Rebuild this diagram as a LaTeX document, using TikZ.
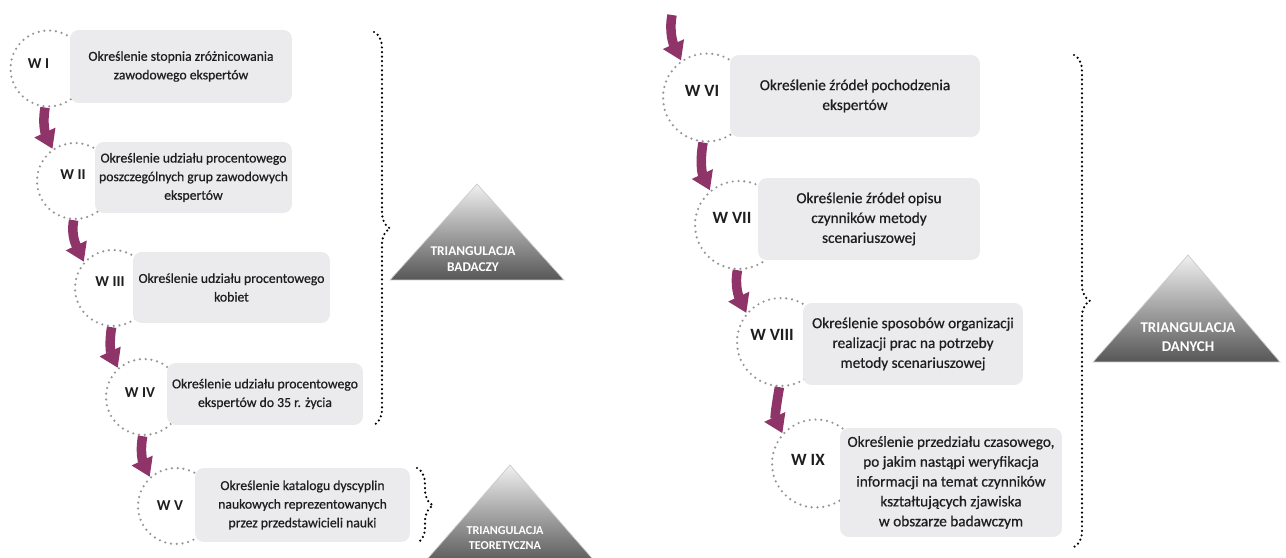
\documentclass[tikz,border=0pt]{standalone}
\usepackage{fontspec}
\setmainfont{Carlito}
\newfontfamily\boxfont{Carlito}[FakeBold=0.6]
\usetikzlibrary{arrows.meta, positioning, calc, decorations.pathreplacing}
\definecolor{boxgray}{RGB}{235,235,238}
\definecolor{arrowc}{RGB}{142,52,104}
\definecolor{dotgray}{RGB}{150,150,150}
\definecolor{textc}{RGB}{30,30,30}

\begin{document}
\begin{tikzpicture}[
    x=0.02cm, y=0.02cm,
    every node/.style={text=textc},
    circ/.style={circle, draw=dotgray, line width=1.4pt, dash pattern=on 0pt off 3.3pt,
                 line cap=round, minimum size=1.52cm, inner sep=0pt},
    circr/.style={circ, minimum size=1.76cm},
    box/.style={rectangle, fill=boxgray, rounded corners=5pt, align=center,
                font=\boxfont\fontsize{7.8}{10.6}\selectfont, inner sep=2pt},
    boxr/.style={box, font=\boxfont\fontsize{8.7}{11.3}\selectfont},
    wlab/.style={font=\bfseries\fontsize{8.6}{10}\selectfont},
    wlabr/.style={font=\bfseries\fontsize{9.8}{11}\selectfont},
    flow/.style={-{Triangle[length=0.36cm, width=0.44cm]}, line width=0.19cm, draw=arrowc},
    dbrace/.style={decorate, decoration={brace, amplitude=0.32cm}, line width=1.4pt,
                   dash pattern=on 0pt off 2.6pt, line cap=round},
    tri/.style={top color=black!6, bottom color=black!66, draw=black!20, line width=0.4pt},
    trilab/.style={text=white, align=center, font=\bfseries\fontsize{7.6}{9}\selectfont}
]
\useasboundingbox (0,0) rectangle (1286,558);
\clip (0,0) rectangle (1286,558);
% Kolumna lewa - okregi
\node[circ] (c1) at (48.5,489.5) {};
\node[circ] (c2) at (75,377) {};
\node[circ] (c3) at (113,270) {};
\node[circ] (c4) at (144,161) {};
\node[circ] (c5) at (176,52) {};
% Kolumna prawa - okregi
\node[circr] (c6) at (707,460.5) {};
\node[circr] (c7) at (739,333) {};
\node[circr] (c8) at (781,216) {};
\node[circr] (c9) at (816,94.5) {};
% Prostokaty z opisem
\node[box, minimum width=4.44cm, minimum height=1.46cm] (b1) at (181,491.5)
    {Określenie stopnia zróżnicowania\\zawodowego ekspertów};
\node[box, minimum width=3.94cm, minimum height=1.42cm] (b2) at (193.5,380.5)
    {Określenie udziału procentowego\\poszczególnych grup zawodowych\\ekspertów};
\node[box, minimum width=3.94cm, minimum height=1.42cm] (b3) at (231.5,270.5)
    {Określenie udziału procentowego\\kobiet};
\node[box, minimum width=3.92cm, minimum height=1.24cm] (b4) at (265,164)
    {Określenie udziału procentowego\\ekspertów do 35 r. życia};
\node[box, minimum width=4.30cm, minimum height=1.48cm] (b5) at (302.5,53)
    {Określenie katalogu dyscyplin\\naukowych reprezentowanych\\przez przedstawicieli nauki};
\node[boxr, minimum width=5.00cm, minimum height=1.64cm] (b6) at (855,462)
    {Określenie źródeł pochodzenia\\ekspertów};
\node[boxr, minimum width=4.44cm, minimum height=1.64cm] (b7) at (869,339)
    {Określenie źródeł opisu\\czynników metody\\scenariuszowej};
\node[boxr, minimum width=4.40cm, minimum height=1.64cm] (b8) at (913,214)
    {Określenie sposobów organizacji\\realizacji prac na potrzeby\\metody scenariuszowej};
\node[boxr, minimum width=4.44cm, minimum height=2.18cm] (b9) at (951,75.5)
    {Określenie przedziału czasowego,\\po jakim nastąpi weryfikacja\\informacji na temat czynników\\kształtujących zjawiska\\w obszarze badawczym};
% Etykiety W
\node[wlab] (l1) at ([shift={(-10,5)}]c1) {W I};
\node[wlab] (l2) at ([shift={(-2,6)}]c2) {W II};
\node[wlab] (l3) at ([shift={(-3,6)}]c3) {W III};
\node[wlab] (l4) at ([shift={(-4,4)}]c4) {W IV};
\node[wlab] (l5) at ([shift={(-6,0)}]c5) {W V};
\node[wlabr] (l6) at ([shift={(-5,7)}]c6) {W VI};
\node[wlabr] (l7) at ([shift={(-7,7)}]c7) {W VII};
\node[wlabr] (l8) at ([shift={(-9,7)}]c8) {W VIII};
\node[wlabr] (l9) at ([shift={(-8,4)}]c9) {W IX};
% Strzalki
\coordinate (top) at (672,543);
\draw[flow] (c1.265) to[out=-100, in=115] (c2.125);
\draw[flow] (c2.268) to[out=-100, in=115] (c3.138);
\draw[flow] (c3.268) to[out=-100, in=115] (c4.132);
\draw[flow] (c4.268) to[out=-100, in=115] (c5.132);
\draw[flow] (top) to[out=-100, in=115] (c6.125);
\draw[flow] (c6.265) to[out=-100, in=115] (c7.130);
\draw[flow] (c7.268) to[out=-100, in=115] (c8.140);
\draw[flow] (c8.268) to[out=-100, in=115] (c9.138);
% Nawiasy
\draw[dbrace] (374,526) -- (374,133);
\draw[dbrace] (417,90) -- (417,15);
\draw[dbrace] (1074,503) -- (1074,11);
% Trojkaty
\shade[tri] (390,278) -- (477,374) -- (564,278) -- cycle;
\shade[tri] (422,-7) -- (510,93) -- (598,-7) -- cycle;
\shade[tri] (1093,196) -- (1188,303) -- (1280,196) -- cycle;
\node[trilab] (tbad) at (473,298.5) {TRIANGULACJA\\BADACZY};
\node[trilab, font=\bfseries\fontsize{6.9}{8.5}\selectfont] (tteo) at (505,19.5) {TRIANGULACJA\\TEORETYCZNA};
\node[trilab, font=\bfseries\fontsize{8.5}{10.5}\selectfont] (tdan) at (1188,221) {TRIANGULACJA\\DANYCH};
\end{tikzpicture}
\end{document}
